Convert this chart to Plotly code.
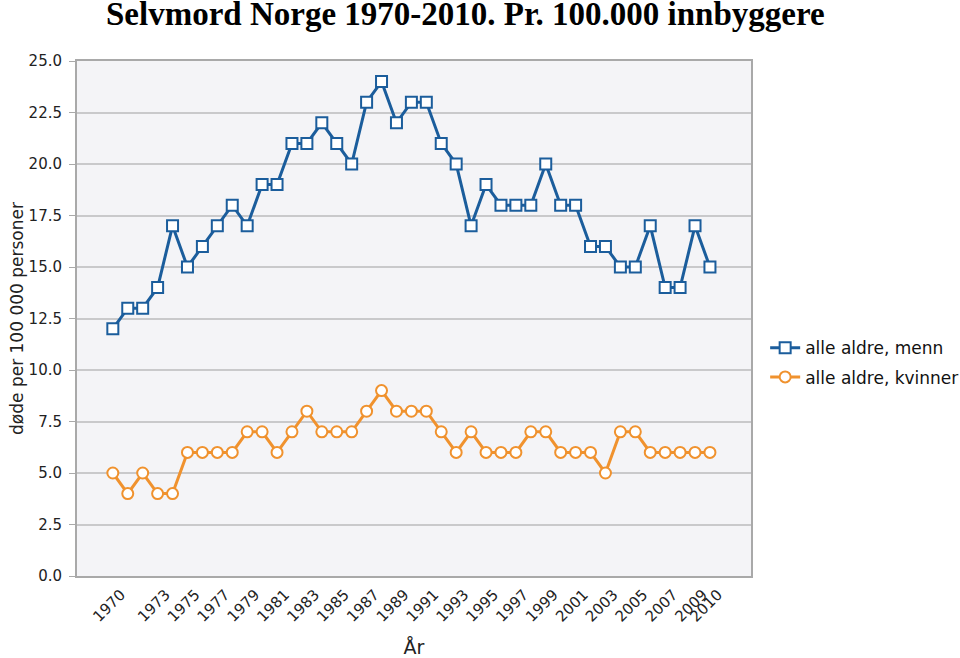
import plotly.graph_objects as go

years = list(range(1970, 2011))
menn = [12, 13, 13, 14, 17, 15, 16, 17, 18, 17, 19, 19, 21, 21, 22, 21, 20, 23, 24, 22,
        23, 23, 21, 20, 17, 19, 18, 18, 18, 20, 18, 18, 16, 16, 15, 15, 17, 14, 14, 17, 15]
kvinner = [5, 4, 5, 4, 4, 6, 6, 6, 6, 7, 7, 6, 7, 8, 7, 7, 7, 8, 9, 8,
           8, 8, 7, 6, 7, 6, 6, 6, 7, 7, 6, 6, 6, 5, 7, 7, 6, 6, 6, 6, 6]
tick_years = [1970, 1973, 1975, 1977, 1979, 1981, 1983, 1985, 1987, 1989, 1991, 1993,
              1995, 1997, 1999, 2001, 2003, 2005, 2007, 2009, 2010]
y_ticks = [0, 2.5, 5, 7.5, 10, 12.5, 15, 17.5, 20, 22.5, 25]

blue = "#1b5d9c"
orange = "#f0922e"
sans = "DejaVu Sans, Verdana, sans-serif"

fig = go.Figure()
fig.add_trace(go.Scatter(
    x=years, y=menn, name="alle aldre, menn", mode="lines+markers", legendgroup="m",
    line=dict(color=blue, width=3),
    marker=dict(symbol="square", size=11, color="white", line=dict(color=blue, width=2)),
))
fig.add_trace(go.Scatter(
    x=years, y=kvinner, name="alle aldre, kvinner", mode="lines+markers", legendgroup="k",
    line=dict(color=orange, width=3),
    marker=dict(symbol="circle", size=11, color="white", line=dict(color=orange, width=2)),
))

fig.add_annotation(
    text="<b>Selvmord Norge 1970-2010. Pr. 100.000 innbyggere</b>",
    xref="paper", yref="paper", x=0.577, xanchor="center",
    y=1.052, yanchor="bottom", showarrow=False,
    font=dict(family="Liberation Serif, Times New Roman, serif", size=33, color="black"),
)

fig.update_layout(
    width=960, height=658,
    margin=dict(l=77, r=209, t=61, b=82, autoexpand=False),
    paper_bgcolor="white",
    plot_bgcolor="#f4f4f7",
    font=dict(family=sans, size=14, color="#222222"),
    showlegend=True,
    legend=dict(
        x=1.021, xanchor="left", y=0.414, yanchor="middle",
        font=dict(family=sans, size=17, color="#111111"),
        bgcolor="rgba(0,0,0,0)", tracegroupgap=4,
    ),
    xaxis=dict(
        range=[1967.6, 2012.75], automargin=False,
        tickmode="array", tickvals=tick_years, ticktext=[str(t) for t in tick_years],
        tickangle=-45, showgrid=False, zeroline=False,
        showline=True, linecolor="#a9a9a9", linewidth=2, mirror=True,
        ticks="", ticklabelshift=8, ticklabelstandoff=2,
        tickfont=dict(family=sans, size=15, color="#222222"),
        title=dict(text="År", font=dict(family=sans, size=19, color="#222222"), standoff=20),
    ),
    yaxis=dict(
        range=[0, 25], automargin=False, tickmode="array", tickvals=y_ticks,
        tickformat=".1f", showgrid=True, gridcolor="#c9c9cb", gridwidth=2,
        zeroline=False, showline=True, linecolor="#a9a9a9", linewidth=2, mirror=True,
        ticks="outside", ticklen=6, tickcolor="#a9a9a9", ticklabelstandoff=4,
        tickfont=dict(family=sans, size=15, color="#222222"),
        title=dict(text="døde per 100 000 personer", font=dict(family=sans, size=17, color="#222222"), standoff=1),
    ),
)

fig.write_html("out.html", config={"displayModeBar": False},
               post_script="document.body.style.margin='0px';")
